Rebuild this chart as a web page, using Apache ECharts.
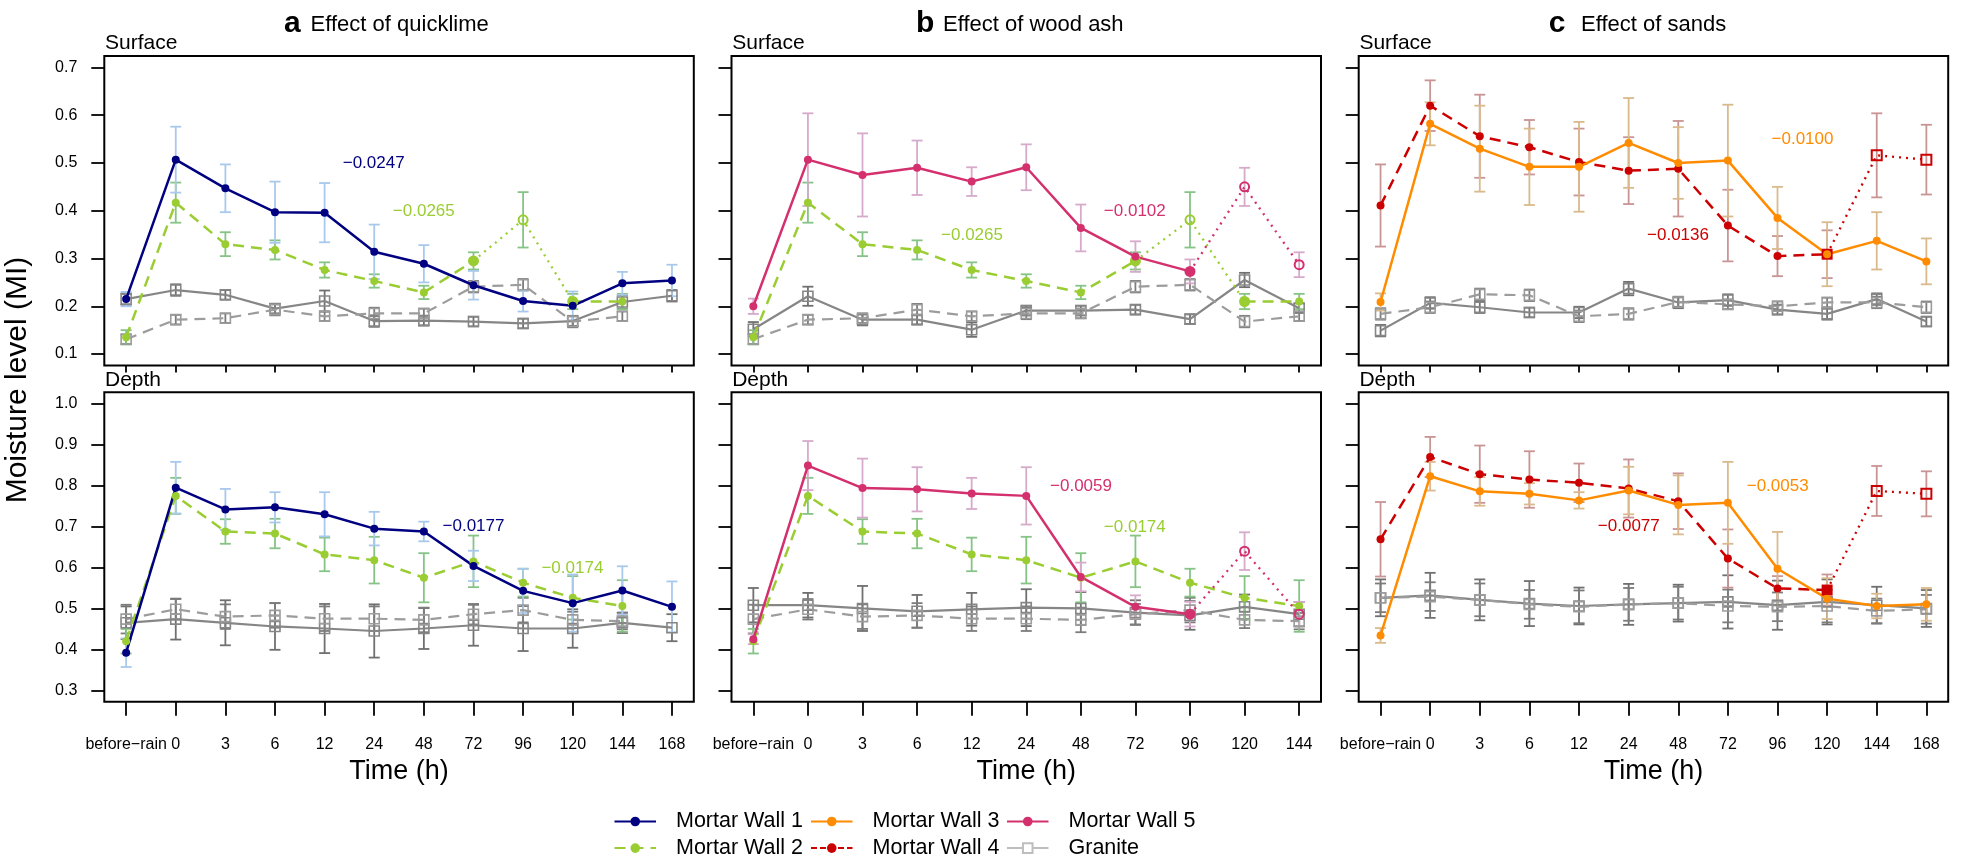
<!DOCTYPE html>
<html><head><meta charset="utf-8">
<script src="https://cdn.jsdelivr.net/npm/echarts@6/dist/echarts.min.js"></script>
<style>html,body{margin:0;padding:0;background:#fff}#c{width:1961px;height:862px}</style>
</head><body><div id="c"></div>
<script>
// ---------- categories / ticks ----------
const catsAC = ['before\u2212rain','0','3','6','12','24','48','72','96','120','144','168'];
const catsB  = ['before\u2212rain','0','3','6','12','24','48','72','96','120','144'];
const yTicksTop = [0.1, 0.7];
const yTicksBottom = [0.3, 1.0];

// ---------- panel a : quicklime ----------
const aTopMW1    = [0.215,0.507,0.447,0.397,0.396,0.314,0.289,0.244,0.211,0.201,0.248,0.254];
const aTopMW1Err = [0.015,0.069,0.050,0.064,0.062,0.057,0.039,0.030,0.022,0.030,0.024,0.033];
const topMW2     = [0.135,0.417,0.330,0.318,0.276,0.253,0.229,0.295,0.381,0.210,0.210];
const topMW2Err  = [0.015,0.042,0.025,0.020,0.016,0.014,0.014,0.018,0.058,0.016,0.016];
const topMW2Out  = [8];
const aTopGrS    = [0.215,0.234,0.224,0.195,0.211,0.169,0.170,0.168,0.164,0.169,0.209,0.222];
const aTopGrSErr = [0.012,0.012,0.010,0.010,0.022,0.012,0.010,0.010,0.010,0.010,0.014,0.012];
const topGrD     = [0.131,0.172,0.175,0.193,0.179,0.185,0.185,0.241,0.245,0.168,0.179];
const topGrDErr  = [0.010,0.010,0.010,0.012,0.010,0.012,0.010,0.012,0.012,0.012,0.010];

const aBotMW1    = [0.392,0.795,0.742,0.747,0.730,0.695,0.688,0.604,0.543,0.513,0.544,0.504];
const aBotMW1Err = [0.035,0.063,0.050,0.037,0.054,0.041,0.024,0.037,0.054,0.070,0.059,0.062];
const botMW2     = [0.420,0.775,0.688,0.683,0.632,0.618,0.575,0.615,0.563,0.526,0.506];
const botMW2Err  = [0.030,0.044,0.030,0.036,0.041,0.057,0.060,0.063,0.034,0.053,0.063];
const aBotGrS    = [0.465,0.474,0.465,0.456,0.451,0.445,0.451,0.459,0.451,0.451,0.465,0.453];
const aBotGrSErr = [0.040,0.050,0.055,0.057,0.060,0.065,0.050,0.050,0.055,0.047,0.025,0.033];
const botGrD     = [0.474,0.498,0.480,0.483,0.475,0.475,0.472,0.486,0.496,0.472,0.469];
const botGrDErr  = [0.035,0.025,0.030,0.030,0.030,0.030,0.030,0.025,0.030,0.020,0.020];

// ---------- panel b : wood ash ----------
const bTopMW5    = [0.200,0.507,0.475,0.490,0.461,0.491,0.364,0.304,0.273,0.450,0.287];
const bTopMW5Err = [0.016,0.097,0.087,0.057,0.030,0.048,0.049,0.032,0.025,0.040,0.026];
const bTopMW5Out = [9,10];
const bTopGrS    = [0.152,0.221,0.172,0.172,0.151,0.191,0.191,0.193,0.173,0.255,0.196];
const bTopGrSErr = [0.015,0.020,0.012,0.010,0.015,0.010,0.010,0.010,0.010,0.015,0.010];

const bBotMW5    = [0.425,0.849,0.794,0.791,0.781,0.775,0.577,0.504,0.486,0.640,0.486];
const bBotMW5Err = [0.012,0.060,0.072,0.054,0.038,0.070,0.035,0.028,0.030,0.046,0.030];
const bBotMW5Out = [9,10];
const bBotGrS    = [0.508,0.508,0.500,0.493,0.498,0.502,0.500,0.490,0.483,0.504,0.486];
const bBotGrSErr = [0.042,0.030,0.055,0.040,0.040,0.045,0.040,0.030,0.035,0.030,0.030];

// ---------- panel c : sands ----------
const cTopMW3    = [0.209,0.582,0.530,0.492,0.492,0.542,0.500,0.505,0.385,0.309,0.337,0.294];
const cTopMW3Err = [0.018,0.045,0.090,0.080,0.094,0.094,0.075,0.117,0.065,0.067,0.060,0.048];
const cTopMW4    = [0.411,0.620,0.556,0.533,0.502,0.484,0.488,0.369,0.305,0.309,0.516,0.507];
const cTopMW4Err = [0.086,0.053,0.087,0.057,0.070,0.070,0.100,0.075,0.042,0.050,0.088,0.073];
const cTopMW4Out = [10,11];
const cTopGrS    = [0.149,0.207,0.198,0.187,0.187,0.237,0.208,0.213,0.193,0.184,0.215,0.168];
const cTopGrSErr = [0.012,0.012,0.012,0.010,0.012,0.014,0.012,0.012,0.010,0.012,0.012,0.010];
const cTopGrD    = [0.184,0.198,0.225,0.223,0.179,0.184,0.209,0.204,0.200,0.208,0.208,0.198];
const cTopGrDErr = [0.012,0.012,0.012,0.012,0.012,0.012,0.010,0.010,0.010,0.010,0.012,0.012];

const cBotMW3    = [0.434,0.823,0.786,0.780,0.764,0.788,0.753,0.758,0.597,0.524,0.506,0.510];
const cBotMW3Err = [0.018,0.035,0.035,0.026,0.020,0.058,0.072,0.100,0.090,0.050,0.030,0.040];
const cBotMW4    = [0.669,0.870,0.828,0.815,0.807,0.793,0.762,0.622,0.549,0.545,0.787,0.780];
const cBotMW4Err = [0.091,0.049,0.070,0.069,0.047,0.071,0.068,0.071,0.030,0.038,0.061,0.055];
const cBotMW4Out = [10,11];
const cBotGrS    = [0.526,0.532,0.521,0.512,0.506,0.510,0.513,0.516,0.508,0.516,0.508,0.500];
const cBotGrSErr = [0.045,0.055,0.050,0.055,0.045,0.050,0.045,0.065,0.060,0.055,0.045,0.045];
const cBotGrD    = [0.526,0.529,0.521,0.510,0.504,0.510,0.513,0.506,0.504,0.506,0.494,0.498];
const cBotGrDErr = [0.035,0.035,0.040,0.035,0.040,0.040,0.040,0.040,0.035,0.040,0.030,0.035];

// ---------- texts ----------
const panelTitles = [['a','Effect of quicklime'],['b','Effect of wood ash'],['c','Effect of sands']];
const rowLabels = ['Surface','Depth'];
const legendNames = ['Mortar Wall 1','Mortar Wall 2','Mortar Wall 3','Mortar Wall 4','Mortar Wall 5','Granite'];
const slopeLabels = [
  ['\u22120.0247','mw1',373.7,163.3],['\u22120.0265','mw2',423.8,211.7],
  ['\u22120.0177','mw1',473.5,526.7],['\u22120.0174','mw2',572.4,568.3],
  ['\u22120.0102','mw5',1134.8,211],['\u22120.0265','mw2',972,235.3],
  ['\u22120.0059','mw5',1081,486],['\u22120.0174','mw2',1134.8,527.3],
  ['\u22120.0100','mw3',1802.5,139.3],['\u22120.0136','mw4',1678,235.3],
  ['\u22120.0053','mw3',1777.7,486],['\u22120.0077','mw4',1628.8,526.7]
];

// ---------- styles ----------
const FONT = "'Liberation Sans', Arial, Helvetica, sans-serif";
const DASH = [11,7];
const styles = {
  mw1:{color:'#000080', err:'#A9C9EC', type:'solid', end:'circle', outSym:'circle'},
  mw2:{color:'#9ACD32', err:'#86C386', type:DASH, end:'circle', outSym:'circle'},
  mw3:{color:'#FF8C00', err:'#D9BA8C', type:'solid', end:'circle', outSym:'circle'},
  mw4:{color:'#CC0000', err:'#C99494', type:DASH, end:'rect', outSym:'rect'},
  mw5:{color:'#D4306E', err:'#D6AACB', type:'solid', end:'circle', outSym:'circle'},
  grS:{color:'#868686', err:'#707070', type:'solid', granite:true},
  grD:{color:'#9C9C9C', err:'#7C7C7C', type:DASH, granite:true}
};

const panels = [
  {col:0,row:0,cats:catsAC,yr:yTicksTop,lines:[
    {v:aTopGrS,e:aTopGrSErr,k:'grS'},{v:topGrD,e:topGrDErr,k:'grD'},
    {v:topMW2,e:topMW2Err,k:'mw2',out:topMW2Out},{v:aTopMW1,e:aTopMW1Err,k:'mw1'}]},
  {col:0,row:1,cats:catsAC,yr:yTicksBottom,lines:[
    {v:aBotGrS,e:aBotGrSErr,k:'grS'},{v:botGrD,e:botGrDErr,k:'grD'},
    {v:botMW2,e:botMW2Err,k:'mw2'},{v:aBotMW1,e:aBotMW1Err,k:'mw1'}]},
  {col:1,row:0,cats:catsB,yr:yTicksTop,lines:[
    {v:bTopGrS,e:bTopGrSErr,k:'grS'},{v:topGrD,e:topGrDErr,k:'grD'},
    {v:topMW2,e:topMW2Err,k:'mw2',out:topMW2Out},{v:bTopMW5,e:bTopMW5Err,k:'mw5',out:bTopMW5Out}]},
  {col:1,row:1,cats:catsB,yr:yTicksBottom,lines:[
    {v:bBotGrS,e:bBotGrSErr,k:'grS'},{v:botGrD,e:botGrDErr,k:'grD'},
    {v:botMW2,e:botMW2Err,k:'mw2'},{v:bBotMW5,e:bBotMW5Err,k:'mw5',out:bBotMW5Out}]},
  {col:2,row:0,cats:catsAC,yr:yTicksTop,lines:[
    {v:cTopGrS,e:cTopGrSErr,k:'grS'},{v:cTopGrD,e:cTopGrDErr,k:'grD'},
    {v:cTopMW4,e:cTopMW4Err,k:'mw4',out:cTopMW4Out},{v:cTopMW3,e:cTopMW3Err,k:'mw3'}]},
  {col:2,row:1,cats:catsAC,yr:yTicksBottom,lines:[
    {v:cBotGrS,e:cBotGrSErr,k:'grS'},{v:cBotGrD,e:cBotGrDErr,k:'grD'},
    {v:cBotMW4,e:cBotMW4Err,k:'mw4',out:cBotMW4Out},{v:cBotMW3,e:cBotMW3Err,k:'mw3'}]}
];

// ---------- layout ----------
const frameLeft = [104.3, 731.5, 1358.7];
const frameTop = [56, 392.3];
const frameW = 589.5, frameH = 309.5;
const padX = frameW*0.04/1.08, padY = frameH*0.04/1.08;

const grid = [], xAxis = [], yAxis = [], series = [];
panels.forEach((p, i) => {
  grid.push({left:frameLeft[p.col], top:frameTop[p.row], width:frameW, height:frameH,
    show:true, borderColor:'#000', borderWidth:2, backgroundColor:'transparent'});
  xAxis.push({gridIndex:i, type:'value', show:false, min:0, max:1});
  yAxis.push({gridIndex:i, type:'value', show:false, min:0, max:1});
});
panels.forEach((p, i) => {
  const gi = panels.length + i;
  grid.push({left:frameLeft[p.col]+padX, top:frameTop[p.row]+padY, width:frameW-2*padX, height:frameH-2*padY});
  xAxis.push({gridIndex:gi, type:'category', data:p.cats, boundaryGap:false, position:'bottom', offset:padY,
    axisLine:{show:false},
    axisTick:{show:true, alignWithLabel:true, interval:0, length:p.row===0?7:14, lineStyle:{color:'#000', width:1.8}},
    axisLabel:{show:p.row===1, interval:0, fontSize:16, fontFamily:FONT, color:'#000', margin:35, lineHeight:16},
    splitLine:{show:false}});
  yAxis.push({gridIndex:gi, type:'value', min:p.yr[0], max:p.yr[1], interval:0.1, position:'left', offset:padX,
    axisLine:{show:false},
    axisTick:{show:true, length:13, lineStyle:{color:'#000', width:1.8}},
    axisLabel:{show:p.col===0, fontSize:16, fontFamily:FONT, color:'#000', margin:27, formatter:v=>v.toFixed(1)},
    splitLine:{show:false}});
});

function errRender(color){
  return function(params, api){
    const x = api.value(0);
    const lo = api.coord([x, api.value(1)]);
    const hi = api.coord([x, api.value(2)]);
    const w = 5.5, st = {stroke:color, lineWidth:1.8};
    return {type:'group', children:[
      {type:'line', shape:{x1:lo[0],y1:lo[1],x2:hi[0],y2:hi[1]}, style:st},
      {type:'line', shape:{x1:lo[0]-w,y1:lo[1],x2:lo[0]+w,y2:lo[1]}, style:st},
      {type:'line', shape:{x1:hi[0]-w,y1:hi[1],x2:hi[0]+w,y2:hi[1]}, style:st}
    ]};
  };
}

panels.forEach((p, i) => {
  const ax = panels.length + i;
  // error bars
  p.lines.forEach(L => {
    const st = styles[L.k];
    series.push({type:'custom', name:'err', xAxisIndex:ax, yAxisIndex:ax, z:2, silent:true, animation:false,
      data:L.v.map((v,j)=>[j, +(v-L.e[j]).toFixed(4), +(v+L.e[j]).toFixed(4)]),
      renderItem:errRender(st.err)});
  });
  // lines
  p.lines.forEach(L => {
    const st = styles[L.k];
    const out = L.out || [];
    const isOut = j => out.indexOf(j) >= 0;
    const isEnd = j => !isOut(j) && (isOut(j-1) || isOut(j+1));
    const base = {type:'line', xAxisIndex:ax, yAxisIndex:ax, animation:false, silent:true,
      connectNulls:false, showAllSymbol:true, z: st.granite ? 3 : 4};
    if (st.granite) {
      series.push(Object.assign({}, base, {name:'gr', data:L.v.slice(), symbol:'rect', symbolSize:10,
        itemStyle:{color:'rgba(0,0,0,0)', borderColor:st.color, borderWidth:1.6},
        lineStyle:{color:st.color, width:2.2, type:st.type}}));
    } else {
      series.push(Object.assign({}, base, {name:L.k,
        data:L.v.map((v,j)=> isOut(j) ? null : (isEnd(j) ? {value:v, symbol:st.end, symbolSize:11} : v)),
        symbol:'circle', symbolSize:8,
        itemStyle:{color:st.color},
        lineStyle:{color:st.color, width:2.5, type:st.type}}));
      if (out.length) {
        series.push(Object.assign({}, base, {name:L.k+'o',
          data:L.v.map((v,j)=> isOut(j) ? {value:v, symbol:st.outSym, symbolSize:st.outSym==='rect'?10:9,
              itemStyle:{color:'rgba(0,0,0,0)', borderColor:st.color, borderWidth:2}}
            : (isEnd(j) ? {value:v, symbol:'none'} : null)),
          symbol:'circle', symbolSize:8,
          itemStyle:{color:st.color},
          lineStyle:{color:st.color, width:2.3, type:[2,5]}}));
      }
    }
  });
});

// legend proxy series (no data) carrying the legend look
const legendStyles = [
  ['#000080','solid','circle'],['#9ACD32',DASH,'circle'],['#FF8C00','solid','circle'],
  ['#CC0000',[6,3],'circle'],['#D4306E','solid','circle'],['#BEBEBE','solid','emptyRect']
];
legendNames.forEach((n, j) => {
  const ls = legendStyles[j];
  series.push({type:'line', name:n, data:[], xAxisIndex:6, yAxisIndex:6, symbol:ls[2], symbolSize:9,
    itemStyle:{color:ls[0]}, lineStyle:{color:ls[0], width:2.5, type:ls[1]}});
});
const legendCols = [[613.5, 0], [810, 2], [1006, 4]];
const legend = legendCols.map(c => ({
  data:[legendNames[c[1]], legendNames[c[1]+1]], orient:'vertical', left:c[0], top:810.5,
  itemWidth:41.5, itemHeight:12, itemGap:4.6, selectedMode:false, padding:0,
  textStyle:{fontSize:21.5, fontFamily:FONT, color:'#000', lineHeight:22, padding:[0,0,0,15]}
}));

// free texts
function txt(x, y, text, size, color, opt) {
  opt = opt || {};
  const al = opt.align || 'center';
  return {type:'text', x:x, y:y, rotation:opt.rot||0, silent:true, z:100,
    style:{text:text, fill:color, font:(opt.bold?'bold ':'')+size+'px '+FONT,
      textAlign:al, textVerticalAlign:opt.va||'middle', align:al, verticalAlign:opt.va||'middle'}};
}
const graphics = [];
const titleX = [[284, 310.6], [916, 943], [1548.7, 1581]];
panelTitles.forEach((t, k) => {
  graphics.push(txt(titleX[k][0], 23.5, t[0], 30, '#000', {bold:true, align:'left'}));
  graphics.push(txt(titleX[k][1], 24.5, t[1], 22, '#000', {align:'left'}));
});
frameLeft.forEach(fx => {
  graphics.push(txt(fx+0.7, 43.5, rowLabels[0], 21, '#000', {align:'left'}));
  graphics.push(txt(fx+0.7, 380, rowLabels[1], 21, '#000', {align:'left'}));
  graphics.push(txt(fx+frameW/2, 772, 'Time (h)', 27, '#000'));
});
graphics.push(txt(18, 380, 'Moisture level (MI)', 30, '#000', {rot:Math.PI/2}));
slopeLabels.forEach(s => graphics.push(txt(s[2], s[3], s[0], 17, styles[s[1]].color)));

const chart = echarts.init(document.getElementById('c'), null, {renderer:'canvas', width:1961, height:862});
chart.setOption({
  backgroundColor:'#fff', animation:false,
  grid:grid, xAxis:xAxis, yAxis:yAxis, series:series, legend:legend, graphic:graphics
});
</script></body></html>
